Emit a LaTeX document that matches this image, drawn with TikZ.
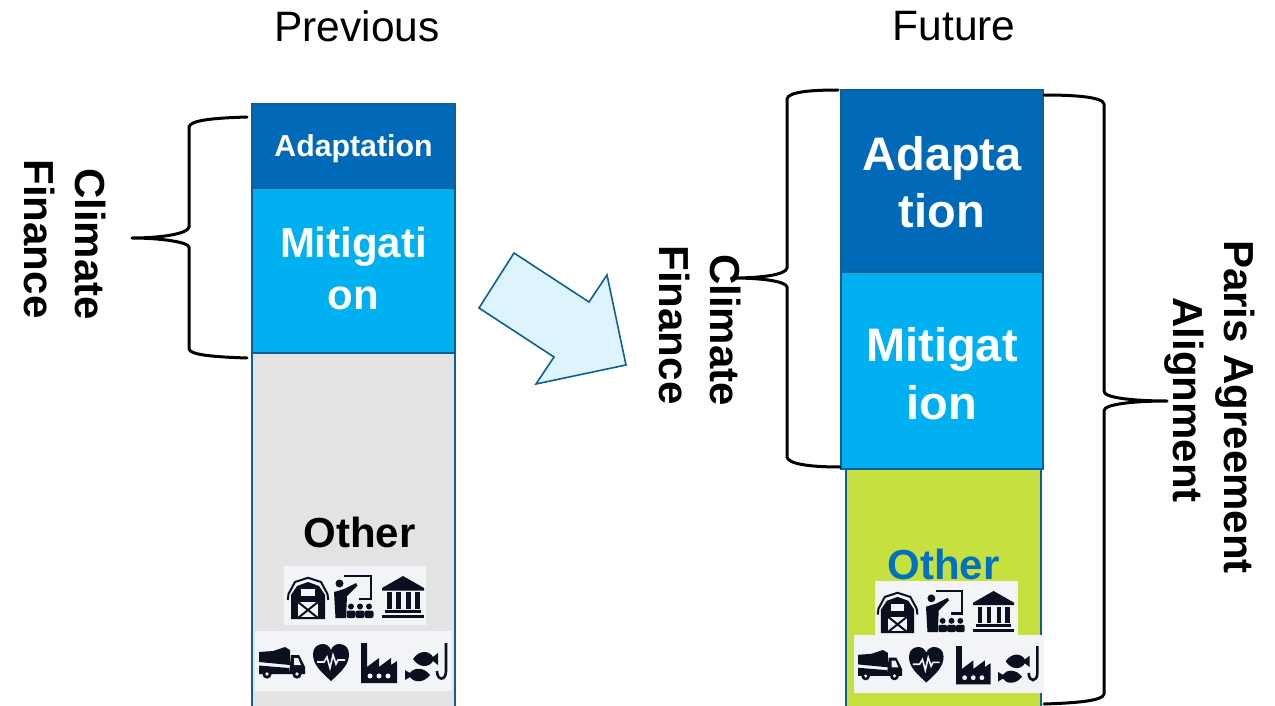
\documentclass[tikz,border=0pt]{standalone}
\usepackage{fontspec}
\setmainfont{Liberation Sans}
\usetikzlibrary{positioning}
\definecolor{Edge}{HTML}{0F5F96}
\definecolor{Adapt}{HTML}{0069B8}
\definecolor{Mitig}{HTML}{00B0F0}
\definecolor{Grey}{HTML}{E3E3E3}
\definecolor{Lime}{HTML}{C6E03F}
\definecolor{Pale}{HTML}{DDF4FD}
\definecolor{Panel}{HTML}{F2F4F8}
\definecolor{Ink}{HTML}{0B1020}
\definecolor{OtherBlue}{HTML}{0070C0}
\def\sized#1#2{\fontsize{#1}{#2}\selectfont}

\begin{document}
\begin{tikzpicture}[
    x=1pt, y=-1pt,
    bar/.style={draw=Edge, line width=1.8pt, rectangle, inner sep=0pt, minimum width=#1, text=white, align=center, font=\bfseries},
    panel/.style={fill=Panel},
    brace/.style={draw=black, line width=3pt, line join=round, line cap=round},
    heading/.style={font=\sized{42.5}{50}},
    sideLabel/.style={rotate=-90, text height=30pt, text depth=9pt, inner sep=0pt, font=\sized{42}{52}\bfseries},
    barnIcon/.pic={
      \draw[Ink, line width=2pt] (0.8,23) -- (1.5,17) -- (8,5) -- (21,0.8) -- (34,5) -- (40.5,17) -- (41.2,23);
      \fill[Ink] (4,42) -- (4,18) -- (10,9) -- (21,5) -- (32,9) -- (38,18) -- (38,42) -- cycle;
      \fill[Panel] (14,12) rectangle (28,19);
      \fill[Panel] (11,25) rectangle (31,41);
      \draw[Ink, line width=2pt] (11,25) -- (31,41) (31,25) -- (11,41);
      \draw[Ink, line width=1.5pt] (10,41) -- (32,41);
    },
    teacherIcon/.pic={
      \draw[Ink, line width=2.4pt] (10,1) -- (37,1) -- (37,24) -- (25,24);
      \fill[Ink] (5.5,8.5) circle (4);
      \fill[Ink] (0,17) -- (10,14) -- (22,8) -- (23.5,10.5) -- (13,21) -- (12,43) -- (1.5,43) -- cycle;
      \foreach \seat in {17,26,35} {
        \fill[Ink] (\seat,31.5) circle (3);
        \fill[Ink, rounded corners=2pt] (\seat-4.5,43) -- (\seat-4.5,35.5) -- (\seat+4.5,35.5) -- (\seat+4.5,43) -- cycle;
      }
    },
    bankIcon/.pic={
      \fill[Ink] (0,12) -- (21,0) -- (42,12) -- (42,14.5) -- (0,14.5) -- cycle;
      \foreach \col in {5,14,24,33} {
        \fill[Ink] (\col,16) rectangle ++(4.5,17);
      }
      \fill[Ink] (3,34) rectangle (39,37);
      \fill[Ink] (0,38.5) rectangle (42,42);
    },
    truckIcon/.pic={
      \fill[Ink] (0,5) -- (14,4) -- (26,0) -- (31,3) -- (31,18) -- (0,15) -- cycle;
      \fill[Ink] (32,8) -- (40,8) -- (46,20) -- (46,27) -- (30,27) -- cycle;
      \fill[Panel] (35,11) -- (39,11) -- (42,18) -- (35,18) -- cycle;
      \fill[Ink] (0,18.5) -- (30,21) -- (30,27) -- (0,27) -- cycle;
      \foreach \wheel in {8,38} {
        \fill[Ink] (\wheel,27) circle (4.6);
        \fill[Panel] (\wheel,27) circle (1.8);
      }
    },
    heartIcon/.pic={
      \fill[Ink] (18,37) .. controls (6,26) and (0,20) .. (0,10) .. controls (0,3) and (5,0) .. (10,0)
        .. controls (14,0) and (17,3) .. (18,6) .. controls (19,3) and (22,0) .. (26,0)
        .. controls (31,0) and (36,3) .. (36,10) .. controls (36,20) and (30,26) .. (18,37) -- cycle;
      \draw[Panel, line width=1.6pt] (4,18) -- (11,18) -- (14,13) -- (17,24) -- (20,11) -- (23,20) -- (25,16) -- (32,16);
    },
    factoryIcon/.pic={
      \fill[Ink] (0,40) -- (0,0) -- (6,0) -- (6,24) -- (18,15) -- (18,24) -- (30,15) -- (30,22) -- (36,18) -- (36,40) -- cycle;
      \foreach \hole in {9,18,27} {
        \fill[Panel] (\hole,33) circle (2.5);
      }
    },
    fishIcon/.pic={
      \fill[Ink] (8,16) .. controls (14,7) and (24,7) .. (28,14) -- (33,10) -- (33,22) -- (28,18) .. controls (24,25) and (14,25) .. (8,16) -- cycle;
      \fill[Ink] (25,32) .. controls (19,24) and (9,24) .. (5,30) -- (0,27) -- (0,37) -- (5,34) .. controls (9,40) and (19,40) .. (25,32) -- cycle;
      \draw[Ink, line width=2.6pt] (41,0) -- (41,28) .. controls (41,38) and (32,38) .. (32,28);
    },
  ]
  \useasboundingbox (0,0) rectangle (1275,706);
  % left bar
  \node[bar=203pt, fill=Grey, minimum height=372pt] (otherL) at (353.5,539) {};
  \node[bar=203pt, fill=Adapt, minimum height=84pt, text depth=0pt, font=\sized{30.3}{36}\bfseries] (adaptL) at (353.5,146) {Adaptation};
  \node[bar=203pt, fill=Mitig, minimum height=165pt, text depth=4pt, font=\sized{42}{52}\bfseries] (mitigL) at (353.5,270.5) {Mitigati\\on};
  % right bar
  \node[bar=195pt, fill=Lime, minimum height=250pt] (otherR) at (943.5,594) {};
  \node[bar=202pt, fill=Adapt, minimum height=182pt, font=\sized{47}{57}\bfseries] (adaptR) at (942,181) {\rule{0pt}{37pt}Adapta\\tion};
  \node[bar=202pt, fill=Mitig, minimum height=197pt, font=\sized{47}{58}\bfseries] (mitigR) at (942,370.5) {\rule{0pt}{41pt}Mitigat\\ion};
  % headings
  \node[heading] (prevHead) at (357,26) {Previous};
  \node[heading] (futureHead) at (954,26) {Future};
  \node[font=\sized{42}{50}\bfseries] (otherTextL) at (359.5,532) {Other};
  \node[font=\sized{42}{50}\bfseries, text=OtherBlue] (otherTextR) at (943.5,564) {Other};
  % icons left
  \fill[panel] (284,566) rectangle (426,625);
  \fill[panel] (255,631) rectangle (452,691);
  \pic at (287,577) {barnIcon};
  \pic at (334,575) {teacherIcon};
  \pic at (382,576) {bankIcon};
  \pic at (259,647) {truckIcon};
  \pic at (313,644) {heartIcon};
  \pic at (361,643) {factoryIcon};
  \pic at (405,643) {fishIcon};
  % icons right
  \fill[panel] (875,581) rectangle (1018,635);
  \fill[panel] (854,635) rectangle (1044,693);
  \pic[scale=0.98] at (877,592) {barnIcon};
  \pic[scale=0.98] at (926,590) {teacherIcon};
  \pic[scale=0.98] at (973,591) {bankIcon};
  \pic[scale=0.96] at (858,650) {truckIcon};
  \pic[scale=0.96] at (909,647) {heartIcon};
  \pic[scale=0.96] at (956,646) {factoryIcon};
  \pic[scale=0.96] at (998,646) {fishIcon};
  % arrow
  \draw[draw=Edge, fill=Pale, line width=1.6pt, line join=miter]
    (514,253) -- (589,302) -- (607,275) -- (626,365) -- (536,384) -- (554,357) -- (479,308) -- cycle;
  % braces
  \draw[brace] (247,117) .. controls (215,118) and (190,120) .. (189,127) -- (189,227)
    .. controls (188,234) and (160,238) .. (132,238) .. controls (160,238) and (188,242) .. (189,247)
    -- (189,349) .. controls (190,355) and (215,357) .. (247,358);
  \draw[brace] (838,90) .. controls (810,90) and (788,92) .. (787,99) -- (787,268)
    .. controls (786,275) and (760,278) .. (733,278) .. controls (760,278) and (786,281) .. (787,287)
    -- (787,457) .. controls (788,464) and (810,467) .. (840,467);
  \draw[brace] (1044,95) .. controls (1075,95) and (1103,97) .. (1104,104) -- (1104,391)
    .. controls (1103,398) and (1135,401) .. (1167,401) .. controls (1135,401) and (1103,404) .. (1104,411)
    -- (1104,694) .. controls (1103,701) and (1075,703) .. (1044,704);
  % side labels
  \node[sideLabel] (climateL) at (85.5,244) {Climate};
  \node[sideLabel] (financeL) at (34.5,239) {Finance};
  \node[sideLabel] (climateR) at (720.5,330) {Climate};
  \node[sideLabel] (financeR) at (669.5,325) {Finance};
  \node[sideLabel] (parisR) at (1235,407) {Paris Agreement};
  \node[sideLabel] (alignR) at (1183.5,400) {Alignment};
\end{tikzpicture}
\end{document}
